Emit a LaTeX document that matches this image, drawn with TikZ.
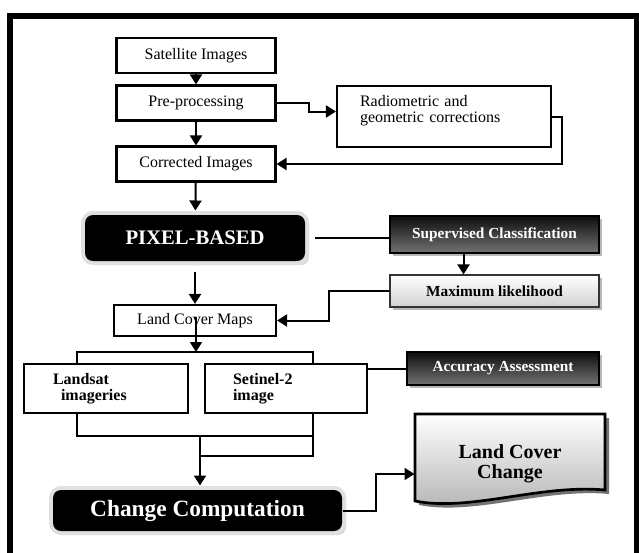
\documentclass[tikz,border=0pt]{standalone}
\usepackage{fontspec}
\setmainfont{Liberation Serif}
\usetikzlibrary{arrows.meta,calc,shadows}

\tikzset{every picture/.style={line width=0.75pt}}
\tikzset{
  arr/.style={-{Triangle[width=9pt,length=7.5pt]}, line width=1.5pt},
  link/.style={line width=1.5pt},
  stepbox/.style={draw, line width=1.6pt, minimum width=119.25pt, minimum height=26.25pt, inner sep=0pt, font=\fontsize{12}{14}\selectfont},
  darkbox/.style={draw=black, line width=0.8pt, top color=black!95, bottom color=black!55, text=white, minimum width=156.75pt, inner sep=0pt,
    drop shadow={shadow xshift=2pt, shadow yshift=-2pt, fill=black!55}, font=\bfseries\fontsize{11.5}{13}\selectfont},
  lightbox/.style={darkbox, draw=black!80, top color=white, bottom color=black!18, text=black},
  blackbox/.style={fill=black, rounded corners=6pt, text=white, inner sep=0pt,
    drop shadow={shadow xshift=3pt, shadow yshift=-3pt, fill=black!30}, preaction={draw=black!12, line width=6pt}},
  imgbox/.style={draw, line width=1.1pt, minimum height=36.75pt, text width=79.5pt, align=left, inner sep=0pt, font=\bfseries\fontsize{12}{12}\selectfont}
}

\begin{document}
\begin{tikzpicture}[x=0.75pt,y=0.75pt,yscale=-1,xscale=1]
\useasboundingbox (0,0) rectangle (639,553);
\fill[white] (0,0) rectangle (639,553);
%Shape: Frame
\draw[line width=4.5pt] (10,553) -- (10,16) -- (637,16) -- (637,553);

%Shape: Rectangle
\node[stepbox] (sat) at (196,55.5) {Satellite Images};
\node[stepbox] (pre) at (196,103) {Pre-processing};
\node[stepbox] (cor) at (196,164) {Corrected Images};
\node[stepbox, minimum width=160.5pt, minimum height=45.75pt, text width=126pt, align=left, font=\fontsize{12}{12}\selectfont] (rad) at (444,116.5) {Radiometric and\\geometric corrections\\ \mbox{}};

%Shape: Rounded Rect
\node[blackbox, minimum width=165pt, minimum height=34.5pt, font=\bfseries\fontsize{15.5}{18}\selectfont] (pix) at (195,238) {PIXEL-BASED};
\node[darkbox, minimum height=27.75pt] (sup) at (494.5,234.5) {Supervised Classification};
\node[lightbox, minimum height=24pt] (max) at (494.5,291) {Maximum likelihood};
\node[stepbox, minimum width=121.5pt, minimum height=23.25pt] (lcm) at (195,320.5) {Land Cover Maps};

\node[imgbox, minimum width=123pt] (lsat) at (106,388.5) {Landsat\\\hspace*{6pt}imageries};
\node[imgbox, minimum width=121.5pt] (sen) at (286,388.5) {Setinel-2\\image};
\node[darkbox, minimum width=144pt, minimum height=24.75pt] (acc) at (503,368.5) {Accuracy Assessment};

\node[blackbox, minimum width=216.75pt, minimum height=30.75pt, font=\bfseries\fontsize{17.5}{20}\selectfont] (chg) at (197.5,510.5) {Change Computation};

%Shape: Document
\fill[black!55] (419,418) -- (609,418) -- (609,494) .. controls (544,488) and (474,516) .. (419,505) -- cycle;
\draw[line width=2pt, top color=white, bottom color=black!30] (415,414) -- (605,414) -- (605,490) .. controls (540,484) and (470,512) .. (415,501) -- cycle;
% Text Node
\node[minimum width=142.5pt, inner sep=0pt, align=center, font=\bfseries\fontsize{15}{15}\selectfont] (doc) at (510,464) {Land Cover\\Change};

% Connectors
\draw[arr] (sat) -- (pre);
\draw[arr] (pre) -- (cor);
\draw[arr] (pre.east) -- ++(32,0) |- ($(rad.west)+(0,-5)$);
\draw[arr] (rad.east) -- ++(10,0) |- (cor.east);
\draw[arr, shorten >=3pt] (cor) -- (pix);
\draw[link, shorten <=7pt] (pix.east) -- (pix.east -| sup.west);
\draw[arr] ($(sup.south)+(-31,0)$) -- ($(max.north)+(-31,0)$);
\draw[arr] (max.west) -- ++(-60,0) |- (lcm.east);
\draw[arr, shorten <=7.5pt] (pix.south) -- (lcm.north);
\coordinate (split) at (196,352);
\draw[arr] ($(lcm.center)+(1,-4)$) -- (split);
\draw[link] ($(lsat.north west)+(54,0)$) |- (split) -| ($(sen.north east)+(-55,0)$);
\draw[link] (sen.east |- acc.west) -- (acc.west);
\coordinate (merge) at (200,435);
\draw[link] ($(lsat.south west)+(54,0)$) |- ($(sen.south east)+(-55,22)$);
\draw[link] ($(sen.south east)+(-55,0)$) -- ++(0,42) -| (merge);
\draw[arr, shorten >=3pt] (merge) -- (merge |- chg.north);
\draw[arr] (chg.east) -- ++(33,0) |- ($(doc.west)+(0,10)$);
\end{tikzpicture}
\end{document}
